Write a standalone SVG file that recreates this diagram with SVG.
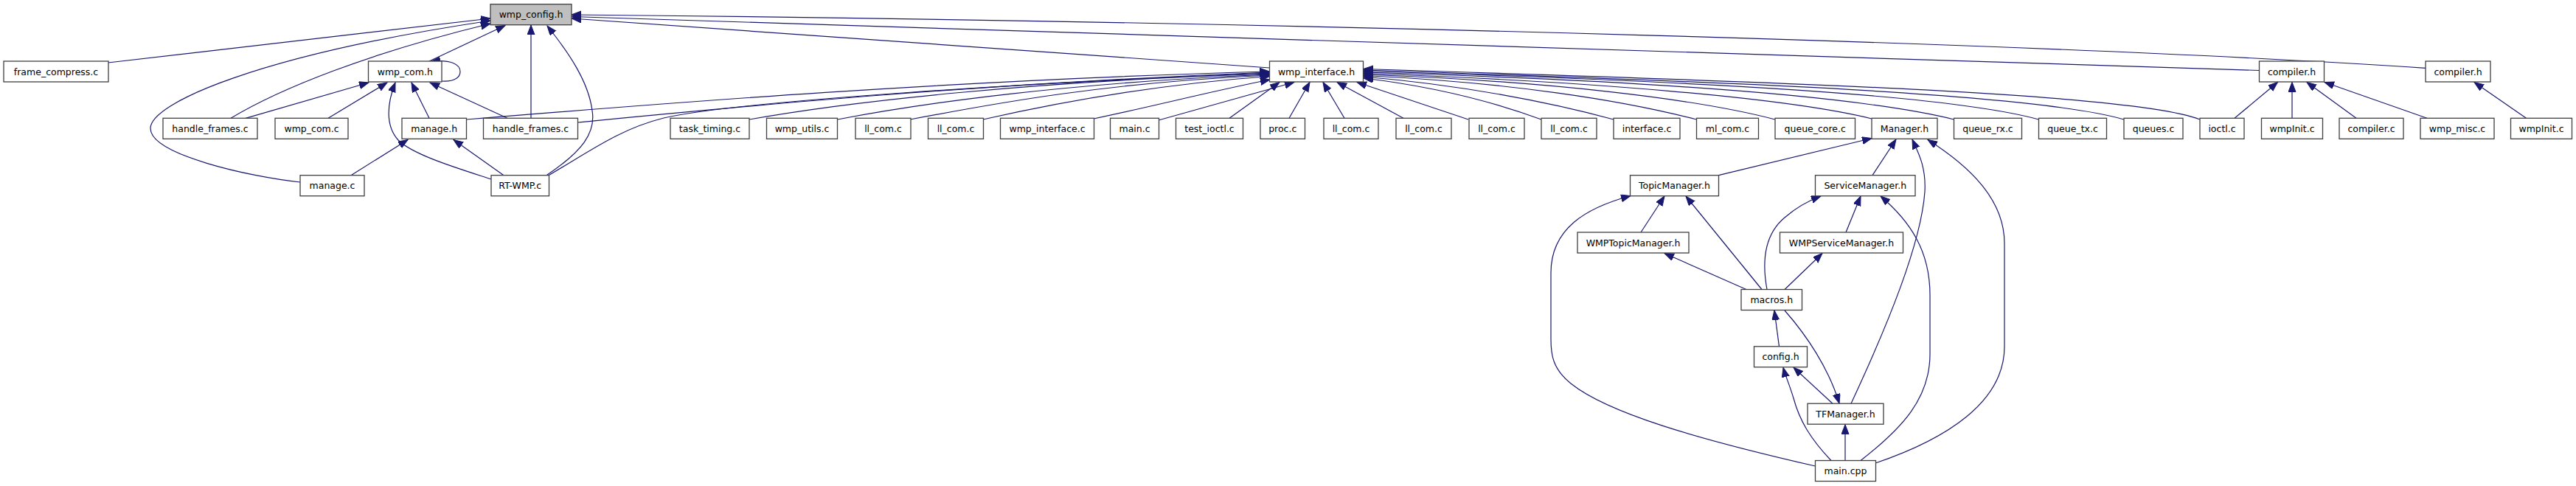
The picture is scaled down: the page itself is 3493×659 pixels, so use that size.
<svg xmlns="http://www.w3.org/2000/svg" width="3493" height="659" viewBox="0 0 3493 659">
<style>
.n rect{fill:#ffffff;stroke:#404040;stroke-width:1.3}
.n rect.root{fill:#bfbfbf}
.n text{font-family:"DejaVu Sans",Verdana,sans-serif;font-size:12.5px;text-anchor:middle;fill:#000}
.e path{fill:none;stroke:#191970;stroke-width:1.2;marker-end:url(#ah)}
</style>
<defs>
<marker id="ah" markerUnits="userSpaceOnUse" markerWidth="14" markerHeight="11" refX="13" refY="5" orient="auto">
<path d="M0,0 L13,5 L0,10 Z" fill="#191970" stroke="#191970" stroke-width="1"/>
</marker>
</defs>
<rect width="3493" height="659" fill="#ffffff"/>
<g id="edges" class="e">
<path d="M146.6,85 L665,25"/>
<path d="M407,247 C340,240 204,210 204,174 C204,140 350,75 665,28"/>
<path d="M313,160.3 C380,120 500,72 665,32"/>
<path d="M582,83 L685,34.5"/>
<path d="M720,160.3 L720,34"/>
<path d="M741,237.7 C790,205 808,180 803,150 C798,110 770,70 742,35"/>
<path d="M1721.5,92 L775,25"/>
<path d="M3063.5,95.5 L775,22.5"/>
<path d="M3289,92.3 C2800,60 1800,30 775,20"/>
<path d="M333,160.3 L500,112"/>
<path d="M445,160.3 L525,112"/>
<path d="M666,243 C620,228 560,210 540,190 C522,170 525,140 536,112"/>
<path d="M582,160.3 L558,112"/>
<path d="M688,160.3 L583,112"/>
<path d="M599,110 C618,111 624,104 624,97 C624,88 612,80 584,83.5"/>
<path d="M476,237.7 L553,189.5"/>
<path d="M683,237.7 L615,189.5"/>
<path d="M632.5,162 C900,140 1300,108 1721.5,97"/>
<path d="M783.7,166 C1000,145 1300,115 1721.5,98"/>
<path d="M744,237.7 C800,205 840,175 900,160 C1000,137 1400,112 1721.5,99"/>
<path d="M1016,162 C1150,138 1400,110 1721.5,100"/>
<path d="M1135.7,162 C1250,140 1450,112 1721.5,101"/>
<path d="M1234,162 C1350,140 1500,112 1721.5,102"/>
<path d="M1333,162 C1430,140 1560,115 1721.5,103.5"/>
<path d="M1483,161 C1560,145 1650,122 1722,108"/>
<path d="M1571,163 L1755,111.5"/>
<path d="M1667,160.3 L1735,111.5"/>
<path d="M1748,160.3 L1776,111.5"/>
<path d="M1823,160.3 L1794,111.5"/>
<path d="M1903,160.3 L1813,111.5"/>
<path d="M1991,162 L1840,111.5"/>
<path d="M2090,162 C2030,140 1950,118 1849,106"/>
<path d="M2188,162 C2100,138 1980,115 1849,104"/>
<path d="M2300.5,162 C2200,136 2050,112 1849,102.5"/>
<path d="M2407,162 C2300,134 2100,110 1849,101"/>
<path d="M2538,161 C2420,132 2150,110 1849,99.5"/>
<path d="M2649.5,162 C2520,130 2250,110 1849,98"/>
<path d="M2764.5,162 C2640,128 2300,110 1849,96.5"/>
<path d="M2880,162 C2760,127 2350,111 1849,95"/>
<path d="M2983,162 C2900,128 2450,112 1849,93.5"/>
<path d="M2330.5,237.7 L2538,187.5"/>
<path d="M2539,237.7 L2571,189"/>
<path d="M2510,547.2 C2560,440 2605,330 2610,260 C2612,225 2600,205 2593,189"/>
<path d="M2543,628 C2640,595 2718,545 2718,470 L2718,330 C2718,270 2670,225 2614,189.5"/>
<path d="M2225,315 L2257,266"/>
<path d="M2389,392.5 L2286,266"/>
<path d="M2461.5,632 C2300,595 2180,560 2130,520 C2105,500 2103,480 2103,460 L2103,370 C2103,310 2150,282 2211,265.5"/>
<path d="M2503,315 L2523,266"/>
<path d="M2396,392.5 C2390,360 2390,320 2420,295 C2435,282 2450,273 2469,266"/>
<path d="M2523,624.5 C2580,580 2617,540 2617,480 L2617,400 C2617,340 2590,300 2550,266"/>
<path d="M2368,392.5 L2257,343.5"/>
<path d="M2420,392.5 L2471,343.5"/>
<path d="M2412.5,469.8 L2406,421"/>
<path d="M2420,421 C2450,455 2480,500 2494,547"/>
<path d="M2485,547.2 L2432,498.3"/>
<path d="M2483,624.5 C2455,595 2440,570 2432,540 C2426,520 2421,510 2418,498.3"/>
<path d="M2502,624.5 L2502,575.7"/>
<path d="M3030,160.3 L3088.5,111.5"/>
<path d="M3108,160.3 L3108,111.5"/>
<path d="M3195,160.3 L3128,111.5"/>
<path d="M3291,160.3 L3152,111.5"/>
<path d="M3425.5,160.3 L3355,111.5"/>
</g>
<g id="n0" class="n"><rect class="root" x="665" y="5.7" width="110" height="28"/><text x="720" y="24.2">wmp_config.h</text></g>
<g id="n1" class="n"><rect x="5" y="83" width="142" height="28"/><text x="76" y="101.5">frame_compress.c</text></g>
<g id="n2" class="n"><rect x="499.5" y="83" width="99.5" height="28"/><text x="549.25" y="101.5">wmp_com.h</text></g>
<g id="n3" class="n"><rect x="1721.5" y="83" width="127" height="28"/><text x="1785" y="101.5">wmp_interface.h</text></g>
<g id="n4" class="n"><rect x="3063.5" y="83" width="88" height="28"/><text x="3107.5" y="101.5">compiler.h</text></g>
<g id="n5" class="n"><rect x="3289" y="83" width="88" height="28"/><text x="3333" y="101.5">compiler.h</text></g>
<g id="n6" class="n"><rect x="221" y="160.3" width="128" height="28"/><text x="285" y="178.8">handle_frames.c</text></g>
<g id="n7" class="n"><rect x="373" y="160.3" width="99" height="28"/><text x="422.5" y="178.8">wmp_com.c</text></g>
<g id="n8" class="n"><rect x="545" y="160.3" width="87.5" height="28"/><text x="588.75" y="178.8">manage.h</text></g>
<g id="n9" class="n"><rect x="655.5" y="160.3" width="128" height="28"/><text x="719.5" y="178.8">handle_frames.c</text></g>
<g id="n10" class="n"><rect x="909" y="160.3" width="107" height="28"/><text x="962.5" y="178.8">task_timing.c</text></g>
<g id="n11" class="n"><rect x="1039.5" y="160.3" width="96" height="28"/><text x="1087.5" y="178.8">wmp_utils.c</text></g>
<g id="n12" class="n"><rect x="1160" y="160.3" width="75" height="28"/><text x="1197.5" y="178.8">ll_com.c</text></g>
<g id="n13" class="n"><rect x="1258.5" y="160.3" width="75" height="28"/><text x="1296" y="178.8">ll_com.c</text></g>
<g id="n14" class="n"><rect x="1356.5" y="160.3" width="127" height="28"/><text x="1420" y="178.8">wmp_interface.c</text></g>
<g id="n15" class="n"><rect x="1505.5" y="160.3" width="66" height="28"/><text x="1538.5" y="178.8">main.c</text></g>
<g id="n16" class="n"><rect x="1594.5" y="160.3" width="91" height="28"/><text x="1640" y="178.8">test_ioctl.c</text></g>
<g id="n17" class="n"><rect x="1709" y="160.3" width="60.5" height="28"/><text x="1739.25" y="178.8">proc.c</text></g>
<g id="n18" class="n"><rect x="1795" y="160.3" width="74" height="28"/><text x="1832" y="178.8">ll_com.c</text></g>
<g id="n19" class="n"><rect x="1893" y="160.3" width="75" height="28"/><text x="1930.5" y="178.8">ll_com.c</text></g>
<g id="n20" class="n"><rect x="1992" y="160.3" width="75" height="28"/><text x="2029.5" y="178.8">ll_com.c</text></g>
<g id="n21" class="n"><rect x="2090" y="160.3" width="75" height="28"/><text x="2127.5" y="178.8">ll_com.c</text></g>
<g id="n22" class="n"><rect x="2188" y="160.3" width="90" height="28"/><text x="2233" y="178.8">interface.c</text></g>
<g id="n23" class="n"><rect x="2300.5" y="160.3" width="84" height="28"/><text x="2342.5" y="178.8">ml_com.c</text></g>
<g id="n24" class="n"><rect x="2407" y="160.3" width="108.5" height="28"/><text x="2461.25" y="178.8">queue_core.c</text></g>
<g id="n25" class="n"><rect x="2538" y="160.3" width="89" height="28"/><text x="2582.5" y="178.8">Manager.h</text></g>
<g id="n26" class="n"><rect x="2649.5" y="160.3" width="92" height="28"/><text x="2695.5" y="178.8">queue_rx.c</text></g>
<g id="n27" class="n"><rect x="2764.5" y="160.3" width="92" height="28"/><text x="2810.5" y="178.8">queue_tx.c</text></g>
<g id="n28" class="n"><rect x="2880" y="160.3" width="80" height="28"/><text x="2920" y="178.8">queues.c</text></g>
<g id="n29" class="n"><rect x="2983" y="160.3" width="60" height="28"/><text x="3013" y="178.8">ioctl.c</text></g>
<g id="n30" class="n"><rect x="3066.5" y="160.3" width="83" height="28"/><text x="3108" y="178.8">wmpInit.c</text></g>
<g id="n31" class="n"><rect x="3172" y="160.3" width="87" height="28"/><text x="3215.5" y="178.8">compiler.c</text></g>
<g id="n32" class="n"><rect x="3282" y="160.3" width="100" height="28"/><text x="3332" y="178.8">wmp_misc.c</text></g>
<g id="n33" class="n"><rect x="3404.5" y="160.3" width="83" height="28"/><text x="3446" y="178.8">wmpInit.c</text></g>
<g id="n34" class="n"><rect x="407" y="237.7" width="87" height="28"/><text x="450.5" y="256.2">manage.c</text></g>
<g id="n35" class="n"><rect x="666" y="237.7" width="78.5" height="28"/><text x="705.25" y="256.2">RT-WMP.c</text></g>
<g id="n36" class="n"><rect x="2210.5" y="237.7" width="120" height="28"/><text x="2270.5" y="256.2">TopicManager.h</text></g>
<g id="n37" class="n"><rect x="2461.5" y="237.7" width="135.5" height="28"/><text x="2529.25" y="256.2">ServiceManager.h</text></g>
<g id="n38" class="n"><rect x="2139" y="315" width="151" height="28"/><text x="2214.5" y="333.5">WMPTopicManager.h</text></g>
<g id="n39" class="n"><rect x="2413.5" y="315" width="167" height="28"/><text x="2497" y="333.5">WMPServiceManager.h</text></g>
<g id="n40" class="n"><rect x="2361" y="392.5" width="82.5" height="28"/><text x="2402.25" y="411">macros.h</text></g>
<g id="n41" class="n"><rect x="2378.5" y="469.8" width="72" height="28"/><text x="2414.5" y="488.3">config.h</text></g>
<g id="n42" class="n"><rect x="2451" y="547.2" width="103" height="28"/><text x="2502.5" y="565.7">TFManager.h</text></g>
<g id="n43" class="n"><rect x="2461.5" y="624.5" width="82" height="28"/><text x="2502.5" y="643">main.cpp</text></g>
</svg>
